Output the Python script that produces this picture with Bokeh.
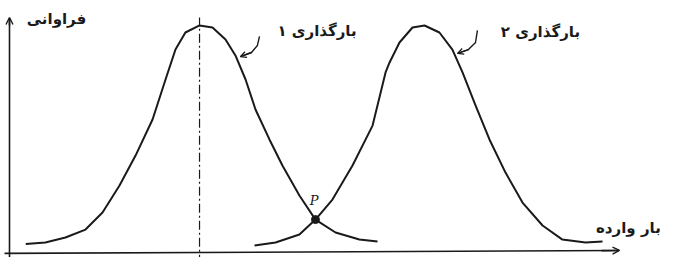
from bokeh.plotting import figure
from bokeh.models import Range1d, Arrow, OpenHead, Label
from bokeh.embed import file_html
from bokeh.resources import INLINE

# Curve 1 (بارگذاری ۱): load vs frequency
load1 = [0.85, 1.88, 2.93, 3.98, 4.87, 5.76, 6.60, 7.49, 8.17, 8.69, 9.21, 9.95, 10.63, 11.31,
         11.83, 12.36, 12.88, 13.61, 14.29, 15.18, 16.02, 17.07, 18.32, 19.27]
freq1 = [0.037, 0.044, 0.066, 0.101, 0.176, 0.295, 0.427, 0.586, 0.762, 0.894, 0.969, 1.0, 0.991, 0.938,
         0.868, 0.762, 0.630, 0.498, 0.383, 0.251, 0.145, 0.088, 0.057, 0.048]

# Curve 2 (بارگذاری ۲)
load2 = [12.83, 13.93, 15.18, 16.02, 16.91, 17.96, 19.01, 19.69, 19.90, 20.42, 21.10, 21.73, 22.51,
         23.19, 23.72, 24.40, 25.13, 25.97, 26.86, 27.91, 28.95, 30.16, 31.05]
freq2 = [0.031, 0.044, 0.079, 0.145, 0.233, 0.383, 0.559, 0.793, 0.837, 0.925, 0.991, 1.0, 0.969,
         0.894, 0.793, 0.648, 0.498, 0.352, 0.220, 0.119, 0.057, 0.044, 0.048]

mean1 = 9.95
p_point = (16.02, 0.145)

label_y = "فراوانی"
label_x = "بار وارده"
label_c1 = "بارگذاری ۱"
label_c2 = "بارگذاری ۲"
label_p = "P"

INK = "#1a1a1a"
FONT = "DejaVu Sans"

p = figure(width=662, height=257, output_backend="svg", toolbar_location=None,
           x_range=Range1d(-0.471, 34.19), y_range=Range1d(-0.022, 1.110),
           x_axis_location=None, y_axis_location=None, min_border=0)
p.outline_line_color = None
p.xgrid.visible = False
p.ygrid.visible = False
p.background_fill_color = "white"

# hand-drawn axes
p.line([0, 0], [-0.03, 1.03], line_color=INK, line_width=1.6)
p.add_layout(Arrow(end=OpenHead(size=7, line_color=INK, line_width=1.4),
                   x_start=0, y_start=1.0, x_end=0, y_end=1.035,
                   line_color=INK, line_width=1.6))
p.line([-0.26, 31.9], [-0.004, 0.009], line_color=INK, line_width=1.6)
p.add_layout(Arrow(end=OpenHead(size=7, line_color=INK, line_width=1.4),
                   x_start=31.0, y_start=0.0085, x_end=31.94, y_end=0.009,
                   line_color=INK, line_width=1.6))

# mean line (dash-dot)
p.line([mean1, mean1], [-0.05, 1.035], line_color=INK, line_width=1.2, line_dash="9 3 2 3")

# curves
p.line(load1, freq1, line_color=INK, line_width=2, line_join="round")
p.line(load2, freq2, line_color=INK, line_width=2, line_join="round")

# intersection point
p.scatter([p_point[0]], [p_point[1]], size=8, color=INK)

# leaders
lx1 = [13.09, 12.98, 12.67, 12.09]
ly1 = [0.952, 0.912, 0.881, 0.863]
p.line(lx1, ly1, line_color=INK, line_width=1.4)
p.add_layout(Arrow(end=OpenHead(size=6, line_color=INK, line_width=1.3),
                   x_start=lx1[2], y_start=ly1[2], x_end=lx1[3], y_end=ly1[3],
                   line_color=INK, line_width=1.4))
lx2 = [24.50, 24.40, 24.03, 23.46]
ly2 = [0.978, 0.925, 0.894, 0.877]
p.line(lx2, ly2, line_color=INK, line_width=1.4)
p.add_layout(Arrow(end=OpenHead(size=6, line_color=INK, line_width=1.3),
                   x_start=lx2[2], y_start=ly2[2], x_end=lx2[3], y_end=ly2[3],
                   line_color=INK, line_width=1.4))

def lab(x, y, t, align="center", size="15px", font=FONT, style="bold"):
    p.add_layout(Label(x=x, y=y, text=t, text_align=align, text_baseline="middle",
                       text_font=font, text_font_size=size, text_font_style=style,
                       text_color=INK))

lab(2.46, 1.027, label_y)
lab(16.1, 0.975, label_c1)
lab(27.8, 0.972, label_c2)
lab(34.1, 0.106, label_x, align="right")
lab(15.95, 0.23, label_p, size="13px", font="DejaVu Serif", style="italic")

open("out.html", "w").write(file_html(p, INLINE))
